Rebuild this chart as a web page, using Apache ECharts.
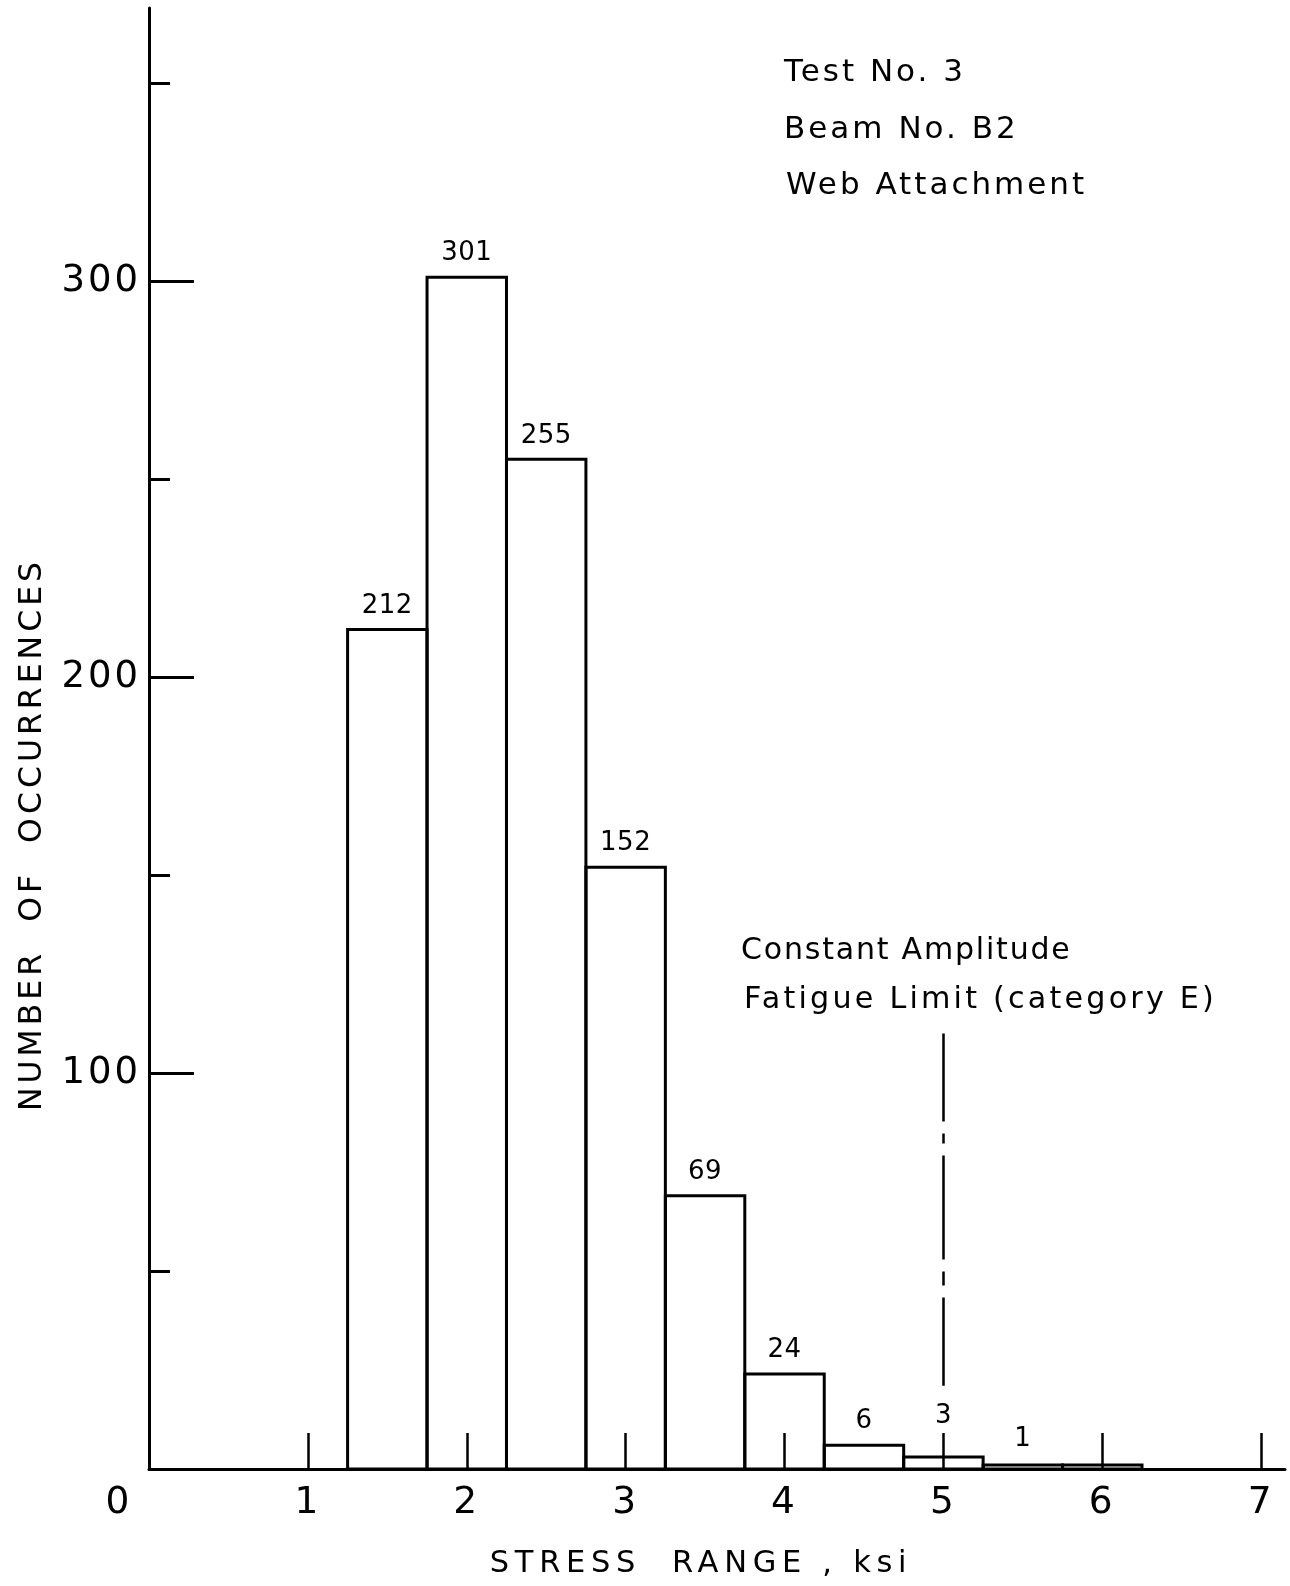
<!DOCTYPE html>
<html>
<head>
<meta charset="utf-8">
<script src="https://cdn.jsdelivr.net/npm/echarts@6/dist/echarts.min.js"></script>
<style>
html,body{margin:0;padding:0;background:#fff;}
#chart{width:1290px;height:1586px;}
</style>
</head>
<body>
<div id="chart"></div>
<script>
// ---- data ----
var binCenters = [1.5, 2.0, 2.5, 3.0, 3.5, 4.0, 4.5, 5.0, 5.5, 6.0];
var occurrences = [212, 301, 255, 152, 69, 24, 6, 3, 1, 1];
var barLabels = ['212', '301', '255', '152', '69', '24', '6', '3', '1', ''];
var binWidth = 0.5;
var xTickValues = [1, 2, 3, 4, 5, 6, 7];
var xLabelValues = [0, 1, 2, 3, 4, 5, 6, 7];
var yMajorTicks = [100, 200, 300];
var yMinorTicks = [50, 150, 250, 350];
var fatigueLimitX = 5;
var fatigueLineRange = [21, 110];
var infoLines = ['Test No. 3', 'Beam No. B2', 'Web Attachment'];
var noteLines = ['Constant Amplitude', 'Fatigue Limit (category E)'];

// label lift above bar top (styling, px)
var labelGap = [9, 9, 9, 9, 9, 9, 9, 26, 11, 9];

// Lettering-style spacing (hand-lettered original has wide letter spacing)
(function () {
  var P = window.CanvasRenderingContext2D && CanvasRenderingContext2D.prototype;
  if (!P || !('letterSpacing' in P)) return;
  var spacingBySize = {'26': 0.5, '37': 3, '37.5': 3, '31': 3, '30': 1.8, '30.2': 3.2, '30.5': 5.7, '31.5': 4};
  function apply(ctx) {
    var m = /(\d+(?:\.\d+)?)px/.exec(ctx.font || '');
    var s = m ? spacingBySize[m[1]] : 0;
    ctx.letterSpacing = (s || 0) + 'px';
  }
  var f = P.fillText, st = P.strokeText;
  P.fillText = function () { apply(this); return f.apply(this, arguments); };
  P.strokeText = function () { apply(this); return st.apply(this, arguments); };
})();

var FONT = '"DejaVu Sans", "Liberation Sans", sans-serif';

var chart = echarts.init(document.getElementById('chart'), null, {renderer: 'canvas'});

var barData = binCenters.map(function (c, i) { return [c, occurrences[i]]; });

var option = {
  backgroundColor: '#ffffff',
  animation: false,
  grid: {left: 149, top: 8, width: 1136, height: 1461, containLabel: false, outerBoundsMode: 'none'},
  xAxis: {
    type: 'value', min: 0, max: 7.15,
    name: 'STRESS  RANGE , ksi', nameLocation: 'middle', nameGap: 80,
    nameTextStyle: {fontFamily: FONT, fontSize: 30.5, color: '#000', padding: [0, 32, 0, 0]},
    axisLine: {show: true, lineStyle: {color: '#000', width: 3}},
    axisTick: {show: true, inside: true, length: 36, lineStyle: {color: '#000', width: 2.5}, customValues: xTickValues},
    axisLabel: {
      show: true, margin: 15, fontFamily: FONT, fontSize: 37.5, color: '#000',
      customValues: xLabelValues,
      formatter: function (v) { return v === 0 ? '{z|0}' : String(v); },
      rich: {z: {fontFamily: FONT, fontSize: 37.5, color: '#000', padding: [0, 60, 0, 0]}}
    },
    splitLine: {show: false}
  },
  yAxis: [{
    type: 'value', min: 0, max: 369,
    name: 'NUMBER  OF  OCCURRENCES', nameLocation: 'middle', nameGap: 100, nameRotate: 90,
    nameTextStyle: {fontFamily: FONT, fontSize: 31.5, color: '#000', padding: [0, 192, 0, 0]},
    axisLine: {show: true, lineStyle: {color: '#000', width: 3}},
    axisTick: {show: true, inside: true, length: 45, lineStyle: {color: '#000', width: 3}, customValues: yMajorTicks},
    axisLabel: {show: true, margin: 8, fontFamily: FONT, fontSize: 37, color: '#000', customValues: yMajorTicks},
    splitLine: {show: false}
  }, {
    type: 'value', min: 0, max: 369, position: 'left', offset: 0,
    axisLine: {show: false},
    axisTick: {show: true, inside: true, length: 21, lineStyle: {color: '#000', width: 3}, customValues: yMinorTicks},
    axisLabel: {show: false},
    splitLine: {show: false}
  }],
  series: [{
    type: 'custom',
    coordinateSystem: 'cartesian2d',
    data: barData,
    z: 3,
    renderItem: function (params, api) {
      var c = api.value(0), v = api.value(1);
      var p0 = api.coord([c - binWidth / 2, 0]);
      var p1 = api.coord([c + binWidth / 2, v]);
      return {
        type: 'rect',
        shape: {x: p0[0], y: p1[1], width: p1[0] - p0[0], height: p0[1] - p1[1]},
        style: {fill: 'rgba(0,0,0,0)', stroke: '#000', lineWidth: 3},
        textContent: {style: {text: barLabels[params.dataIndex], fontFamily: FONT, fontSize: 26, fill: '#000'}},
        textConfig: {position: 'top', distance: labelGap[params.dataIndex]}
      };
    },
    markLine: {
      silent: true, symbol: ['none', 'none'],
      label: {show: false},
      lineStyle: {color: '#000', width: 2.5, type: [88, 12, 10, 12, 104, 12, 14, 12, 400]},
      data: [[{coord: [fatigueLimitX, fatigueLineRange[1]]}, {coord: [fatigueLimitX, fatigueLineRange[0]]}]]
    }
  }],
  graphic: [
    {type: 'text', left: 784, top: 57, style: {text: infoLines[0], fontFamily: FONT, fontSize: 31, fill: '#000'}},
    {type: 'text', left: 784, top: 114, style: {text: infoLines[1], fontFamily: FONT, fontSize: 31, fill: '#000'}},
    {type: 'text', left: 786, top: 170, style: {text: infoLines[2], fontFamily: FONT, fontSize: 31, fill: '#000'}},
    {type: 'text', left: 741, top: 936, style: {text: noteLines[0], fontFamily: FONT, fontSize: 30, fill: '#000'}},
    {type: 'text', left: 744, top: 985, style: {text: noteLines[1], fontFamily: FONT, fontSize: 30.2, fill: '#000'}}
  ]
};
chart.setOption(option);
</script>
</body>
</html>
